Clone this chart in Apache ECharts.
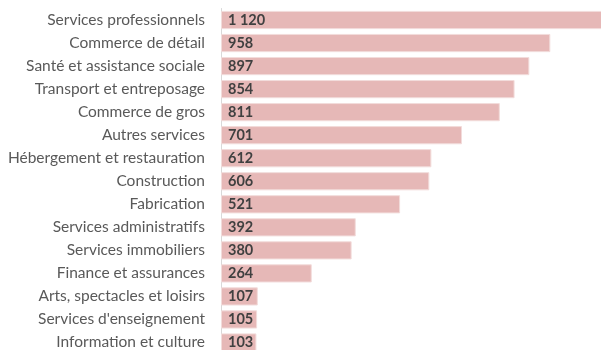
<!DOCTYPE html>
<html>
<head>
<meta charset="utf-8">
<script src="https://cdn.jsdelivr.net/npm/echarts@6/dist/echarts.min.js"></script>
<style>
  html, body { margin: 0; padding: 0; background: #ffffff; }
  #chart { width: 601px; height: 350px; }
</style>
</head>
<body>
<div id="chart"></div>
<script>
// Secteurs d'activité, du plus grand au plus petit
const categories = [
  "Services professionnels",
  "Commerce de détail",
  "Santé et assistance sociale",
  "Transport et entreposage",
  "Commerce de gros",
  "Autres services",
  "Hébergement et restauration",
  "Construction",
  "Fabrication",
  "Services administratifs",
  "Services immobiliers",
  "Finance et assurances",
  "Arts, spectacles et loisirs",
  "Services d'enseignement",
  "Information et culture"
];
const values = [1120, 958, 897, 854, 811, 701, 612, 606, 521, 392, 380, 264, 107, 105, 103];

// Séparateur de milliers à la française : "1 120"
function formatNumber(v) {
  return String(v).replace(/\B(?=(\d{3})+(?!\d))/g, " ");
}

const chart = echarts.init(document.getElementById("chart"), null, { renderer: "canvas" });
chart.setOption({
  animation: false,
  backgroundColor: "#ffffff",
  grid: {
    left: 221, width: 385, top: 8.5, height: 345.5,
    containLabel: false,
    outerBoundsMode: "none"
  },
  xAxis: {
    type: "value",
    min: 0,
    max: 1120,
    show: false
  },
  yAxis: {
    type: "category",
    data: categories,
    inverse: true,
    axisLine: { show: true, lineStyle: { color: "#d9d9d9", width: 1 } },
    axisTick: { show: false },
    axisLabel: {
      margin: 16,
      color: "#595959",
      fontSize: 15.5,
      fontFamily: "Lato"
    }
  },
  series: [{
    type: "bar",
    data: values,
    barCategoryGap: "21%",
    itemStyle: {
      color: "#e6b8b7",
      borderColor: "#f2dcdb",
      borderWidth: 1
    },
    label: {
      show: true,
      position: "insideLeft",
      distance: 7,
      color: "#404040",
      fontSize: 14.5,
      fontWeight: "bold",
      fontFamily: "Lato",
      formatter: p => formatNumber(p.value)
    }
  }]
});
</script>
</body>
</html>
